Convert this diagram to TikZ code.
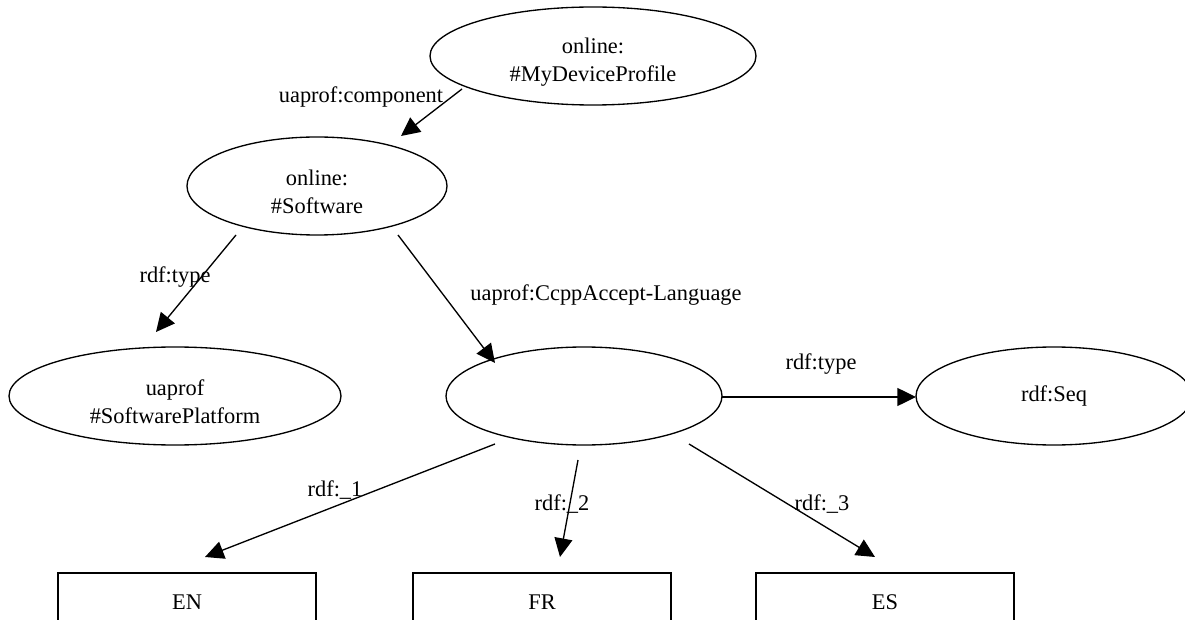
\documentclass[tikz,border=0pt]{standalone}
\usepackage{fontspec}
\setmainfont{Liberation Serif}
\usetikzlibrary{shapes.geometric,arrows.meta}
% taller first line so two-line labels sit a little low in their ellipse
\newcommand{\toplinestrut}{\rule{0pt}{20.2pt}}
\begin{document}
\begin{tikzpicture}[x=0.75pt,y=-0.75pt,
  every node/.style={font=\fontsize{16.8}{21}\selectfont},
  res/.style={draw,ellipse,line width=1pt,inner sep=0pt,minimum height=73.5pt,align=center},
  lit/.style={draw,rectangle,line width=1pt,inner sep=0pt,minimum width=193.5pt,minimum height=43.5pt},
  link/.style={line width=1pt,-{Triangle[length=14pt,width=13.5pt]}},
  lbl/.style={inner sep=0pt}]
\useasboundingbox (0,0) rectangle (1185,620);

% resources
\node[res,minimum width=244.5pt] (top)  at (593,56)  {\toplinestrut online:\\\#MyDeviceProfile};
\node[res,minimum width=195pt]   (soft) at (317,186) {\toplinestrut online:\\\#Software};
\node[res,minimum width=249pt]   (plat) at (175,396) {\toplinestrut uaprof\\\#SoftwarePlatform};
\node[res,minimum width=207pt]   (seqn) at (584,396) {};
\node[res,minimum width=207pt]   (seq)  at (1054,396) {rdf:Seq};

% literals
\node[lit] (en) at (187,602) {EN};
\node[lit] (fr) at (542,602) {FR};
\node[lit] (es) at (885,602) {ES};

% properties
\draw[link] ([shift={(-131,33)}]top.center) -- ([shift={(84,-50)}]soft.center);
\draw[link] ([shift={(-81,49)}]soft.center) -- ([shift={(-19,-64)}]plat.center);
\draw[link] ([shift={(81,49)}]soft.center) -- ([shift={(-89,-33)}]seqn.center);
\draw[link] ([shift={(138,1)}]seqn.center) -- ([shift={(-138,1)}]seq.center);
\draw[link] ([shift={(-89,48)}]seqn.center) -- ([shift={(18,-45)}]en.center);
\draw[link] ([shift={(-6,64)}]seqn.center) -- ([shift={(18,-45)}]fr.center);
\draw[link] ([shift={(105,48)}]seqn.center) -- ([shift={(-10,-45)}]es.center);

% property labels
\node[lbl] (l1) at (361,97)  {uaprof:component};
\node[lbl] (l2) at (175,277) {rdf:type};
\node[lbl] (l3) at (606,295) {uaprof:CcppAccept-Language};
\node[lbl] (l4) at (821,364) {rdf:type};
\node[lbl] (l5) at (335,490) {rdf:\_1};
\node[lbl] (l6) at (562,504) {rdf:\_2};
\node[lbl] (l7) at (822,504) {rdf:\_3};
\end{tikzpicture}
\end{document}
